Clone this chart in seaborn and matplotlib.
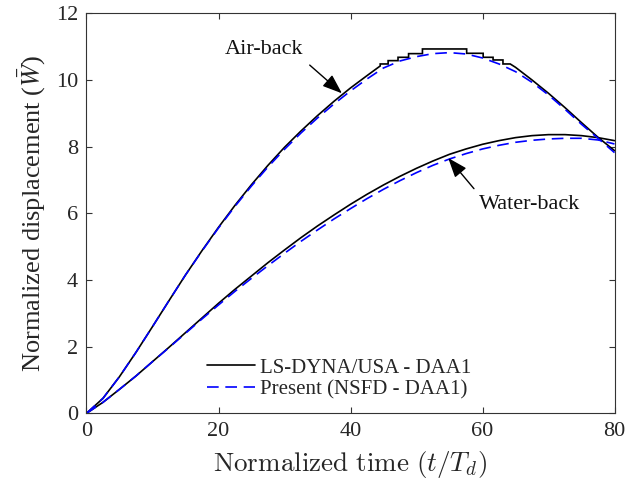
import numpy as np
import pandas as pd
import matplotlib
matplotlib.use("Agg")
import matplotlib.pyplot as plt
import seaborn as sns

# ---------------- data ----------------
# Air-back, LS-DYNA/USA - DAA1 : smooth rise, staircase near the peak, smooth fall
air_dyna_rise_t = [0, 2.5, 5, 7.5, 10, 12.5, 15, 17.5, 20, 22.5, 25, 27.5, 30,
                   32.5, 35, 37.5, 40, 42.5, 44.5]
air_dyna_rise_y = [0, 0.45, 1.1, 1.83, 2.6, 3.38, 4.15, 4.88, 5.58, 6.24, 6.86, 7.44,
                   7.98, 8.47, 8.93, 9.36, 9.76, 10.13, 10.42]
air_dyna_step_edges = [44.5, 45.7, 47.2, 48.8, 50.9, 57.6, 60.1, 61.6, 63.1, 64.2]
air_dyna_step_levels = [10.48, 10.58, 10.68, 10.79, 10.93, 10.80, 10.68, 10.60, 10.48]
air_dyna_fall_t = [64.2, 65, 67.5, 70, 72.5, 75, 77.5, 80]
air_dyna_fall_y = [10.48, 10.38, 10.0, 9.6, 9.17, 8.72, 8.28, 7.88]

# Air-back, Present (NSFD - DAA1)
air_nsfd_t = [0, 2.5, 5, 7.5, 10, 12.5, 15, 17.5, 20, 22.5, 25, 27.5, 30, 32.5, 35,
              37.5, 40, 42.5, 45, 47.5, 50, 52.5, 55, 57.5, 60, 62.5, 65, 67.5, 70,
              72.5, 75, 77.5, 80]
air_nsfd_y = [0, 0.45, 1.1, 1.83, 2.6, 3.38, 4.15, 4.87, 5.56, 6.21, 6.82, 7.39, 7.92,
              8.41, 8.86, 9.28, 9.67, 10.03, 10.36, 10.57, 10.7, 10.79, 10.82, 10.78,
              10.66, 10.48, 10.25, 9.93, 9.55, 9.12, 8.67, 8.25, 7.82]

# Water-back
water_t = [0, 2.5, 5, 7.5, 10, 12.5, 15, 17.5, 20, 22.5, 25, 27.5, 30, 32.5, 35, 37.5,
           40, 42.5, 45, 47.5, 50, 52.5, 55, 57.5, 60, 62.5, 65, 67.5, 70, 72.5, 75,
           77.5, 80]
water_dyna_y = [0, 0.33, 0.72, 1.12, 1.55, 1.98, 2.42, 2.86, 3.3, 3.72, 4.12, 4.52,
                4.9, 5.27, 5.62, 5.95, 6.27, 6.57, 6.85, 7.11, 7.35, 7.57, 7.77, 7.93,
                8.07, 8.18, 8.27, 8.33, 8.36, 8.36, 8.33, 8.27, 8.18]
water_nsfd_y = [0, 0.33, 0.72, 1.12, 1.55, 1.97, 2.4, 2.83, 3.25, 3.66, 4.05, 4.43,
                4.8, 5.16, 5.5, 5.83, 6.14, 6.44, 6.72, 6.98, 7.22, 7.44, 7.63, 7.79,
                7.93, 8.04, 8.13, 8.19, 8.23, 8.25, 8.25, 8.2, 8.08]

legend_labels = ["LS-DYNA/USA - DAA1", "Present (NSFD - DAA1)"]
x_ticks = [0, 20, 40, 60, 80]
y_ticks = [0, 2, 4, 6, 8, 10, 12]

# build the staircase polyline from edges/levels
stair_t, stair_y = [], []
for i, lev in enumerate(air_dyna_step_levels):
    stair_t += [air_dyna_step_edges[i], air_dyna_step_edges[i + 1]]
    stair_y += [lev, lev]
air_dyna_t = air_dyna_rise_t + stair_t + air_dyna_fall_t
air_dyna_y = air_dyna_rise_y + stair_y + air_dyna_fall_y

# ---------------- style ----------------
sns.set_theme(style="ticks")
plt.rcParams["font.family"] = ["Liberation Serif", "DejaVu Serif"]
plt.rcParams["mathtext.fontset"] = "stix"
plt.rcParams["axes.edgecolor"] = "#333333"
plt.rcParams["axes.linewidth"] = 0.8

fig = plt.figure(figsize=(6.43, 4.90), dpi=100)
ax = fig.add_axes([86.5 / 643, 1 - 413.3 / 490, 528 / 643, 400 / 490])

black_kw = dict(color="black", linewidth=1.2, estimator=None, sort=False, ax=ax)
blue_kw = dict(color="#0000ff", linewidth=1.2, estimator=None, sort=False, ax=ax)

sns.lineplot(x=air_dyna_t, y=air_dyna_y, **black_kw)
sns.lineplot(x=water_t, y=water_dyna_y, **black_kw)
sns.lineplot(x=air_nsfd_t, y=air_nsfd_y, **blue_kw)
sns.lineplot(x=water_t, y=water_nsfd_y, **blue_kw)

lines = ax.get_lines()
for ln in lines[:2]:
    ln.set_solid_joinstyle("miter")
for ln in lines[2:4]:
    ln.set_linestyle((0, (7, 4)))

ax.set_xlim(0, 80)
ax.set_ylim(0, 12)
ax.set_xticks(x_ticks)
ax.set_yticks(y_ticks)
ax.tick_params(direction="in", length=4, width=0.8, top=True, right=True,
               labelsize=16, colors="#333333", labelcolor="#262626", pad=6)
for s in ax.spines.values():
    s.set_visible(True)
    s.set_color("#333333")

ax.set_xlabel(r"$\mathrm{Normalized\ time\ }(t/T_d)$", fontsize=19.5, color="#262626",
              labelpad=6, math_fontfamily="cm")
ax.set_ylabel(r"Normalized displacement ($\bar{W}$)", fontsize=19, color="#262626",
              labelpad=6)

leg = ax.legend([lines[0], lines[2]], legend_labels, loc="lower left",
                bbox_to_anchor=(0.228, 0.035), frameon=False, fontsize=15,
                handlelength=2.3, handletextpad=0.25, labelspacing=0.1,
                borderpad=0, borderaxespad=0)
for t in leg.get_texts():
    t.set_color("#262626")

arrow_kw = dict(arrowstyle="-|>,head_length=0.75,head_width=0.28", color="black",
                lw=1.0, mutation_scale=16, shrinkA=3, shrinkB=0)
ax.annotate("Air-back", xy=(38.7, 9.6), xytext=(26.9, 10.9), fontsize=16,
            ha="center", va="center", color="#111111",
            arrowprops=dict(relpos=(1.0, 0.0), **arrow_kw))
ax.annotate("Water-back", xy=(54.8, 7.66), xytext=(67.2, 6.26), fontsize=16,
            ha="center", va="center", color="#111111",
            arrowprops=dict(relpos=(0.0, 1.0), **arrow_kw))

fig.savefig("out.png", dpi=100)
